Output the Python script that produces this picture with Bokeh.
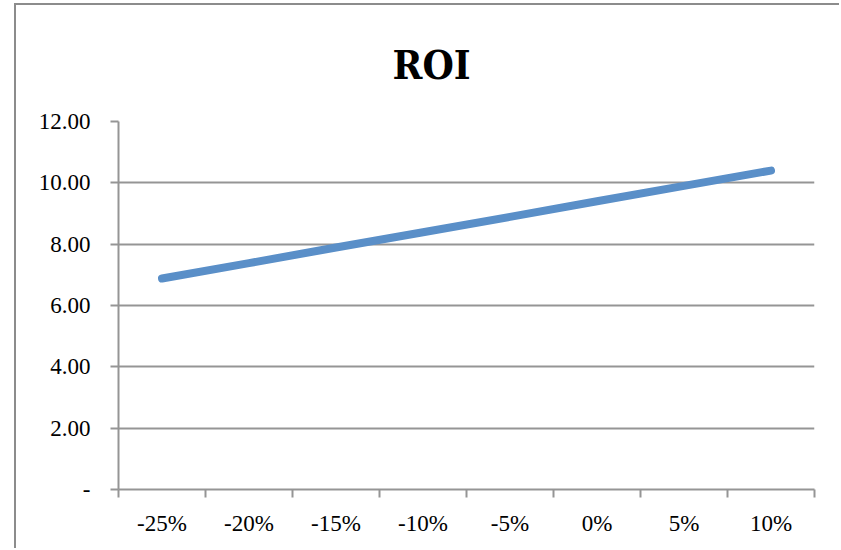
from bokeh.plotting import figure
from bokeh.models import FixedTicker, Range1d
from bokeh.embed import file_html
from bokeh.resources import INLINE

categories = ["-25%", "-20%", "-15%", "-10%", "-5%", "0%", "5%", "10%"]
roi = [6.88, 7.38, 7.89, 8.39, 8.89, 9.40, 9.90, 10.40]
y_ticks = [0, 2, 4, 6, 8, 10, 12]
y_tick_labels = ["-", "2.00", "4.00", "6.00", "8.00", "10.00", "12.00"]

GRID = "#959595"
SERIF = "Liberation Serif"

x_pos = [i + 0.5 for i in range(len(categories))]

p = figure(width=825, height=545, output_backend="svg", toolbar_location=None,
           x_range=Range1d(0, len(categories)), y_range=Range1d(0, 12),
           min_border_left=102, min_border_right=27, min_border_top=116, min_border_bottom=61,
           title="ROI", margin=(3, 0, 0, 14))
p.styles = {"border-left": "2px solid #8c8c8c", "border-top": "2px solid #8c8c8c"}

p.title.align = "left"
p.title.text_font = "DejaVu Serif Condensed"
p.title.text_font_size = "40px"
p.title.text_font_style = "bold"
p.title.text_color = "black"
p.title.offset = 274
p.title.standoff = 67

p.outline_line_color = None
p.background_fill_color = "white"
p.border_fill_color = "white"

p.line(x_pos, roi, line_color="#5a8fc8", line_width=8, line_cap="round", line_join="round")

p.xgrid.visible = False
p.ygrid.ticker = FixedTicker(ticks=y_ticks)
p.ygrid.grid_line_color = GRID
p.ygrid.grid_line_width = 2

# y axis
ya = p.yaxis[0]
ya.ticker = FixedTicker(ticks=y_ticks)
ya.major_label_overrides = {t: l for t, l in zip(y_ticks, y_tick_labels)}
ya.axis_line_color = GRID
ya.axis_line_width = 2
ya.major_tick_line_color = GRID
ya.major_tick_line_width = 2
ya.major_tick_in = 0
ya.major_tick_out = 8
ya.minor_tick_line_color = None
ya.major_label_standoff = 20
ya.major_label_text_font = SERIF
ya.major_label_text_font_size = "23px"
ya.major_label_text_color = "black"

# x axis
xa = p.xaxis[0]
xa.ticker = FixedTicker(ticks=x_pos, minor_ticks=list(range(len(categories) + 1)))
xa.major_label_overrides = {x: c for x, c in zip(x_pos, categories)}
xa.axis_line_color = GRID
xa.axis_line_width = 2
xa.major_tick_line_color = None
xa.major_tick_in = 0
xa.major_tick_out = 0
xa.minor_tick_line_color = GRID
xa.minor_tick_line_width = 2
xa.minor_tick_in = 0
xa.minor_tick_out = 8
xa.major_label_standoff = 13
xa.major_label_text_font = SERIF
xa.major_label_text_font_size = "23px"
xa.major_label_text_color = "black"

open("out.html", "w").write(file_html(p, INLINE))
